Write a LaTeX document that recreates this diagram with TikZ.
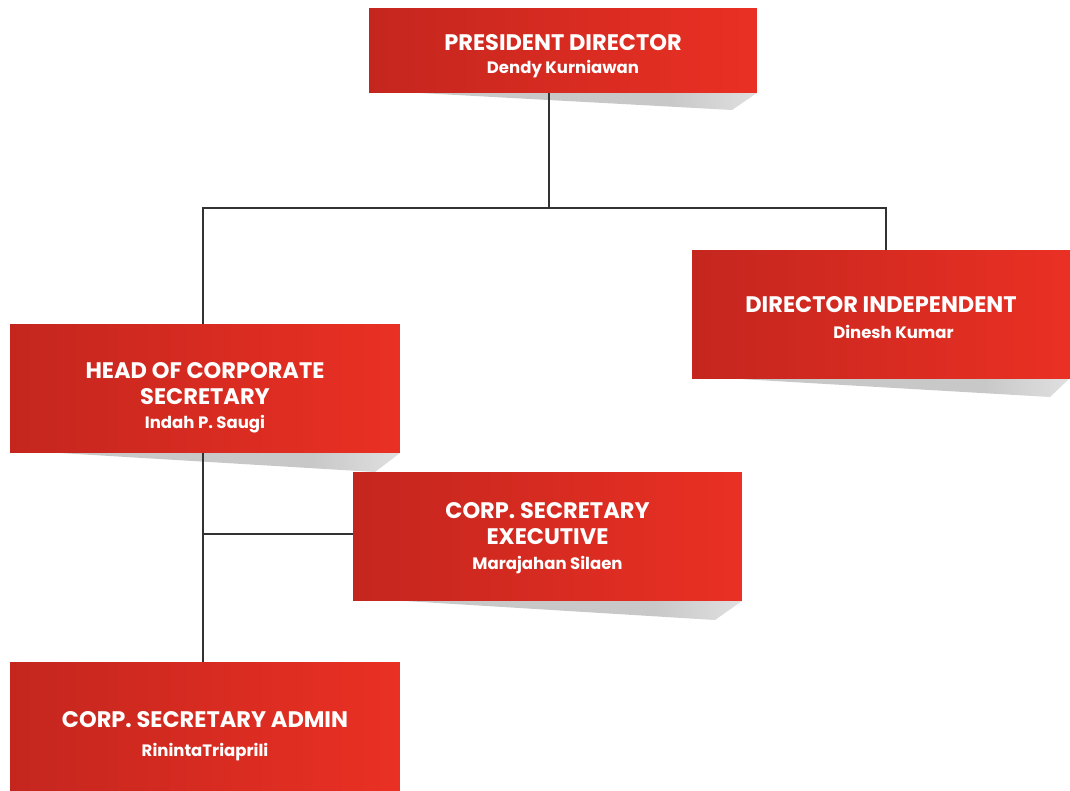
\documentclass[tikz,border=0pt]{standalone}
\usepackage{fontspec}
\setmainfont{Poppins}
\definecolor{redL}{RGB}{196,38,30}
\definecolor{redR}{RGB}{234,48,36}
\definecolor{shadowgray}{RGB}{200,200,200}
\definecolor{linegray}{RGB}{50,50,50}
\pgfdeclarehorizontalshading{shfade}{100bp}{color(0bp)=(shadowgray); color(62bp)=(shadowgray); color(92bp)=(white); color(100bp)=(white)}
\begin{document}
\begin{tikzpicture}[x=0.02cm,y=-0.02cm,
  box/.style={rectangle, inner sep=0pt, left color=redL, right color=redR},
  txt/.style={inner sep=0pt, text=white, align=center,
    font=\bfseries\fontsize{12.8pt}{14.8pt}\selectfont},
  conn/.style={draw=linegray, line width=0.75pt},
  shad/.style={shading=shfade}
]
\newcommand{\Ttl}[1]{{\fontsize{12.8pt}{14.8pt}\selectfont #1}}
\newcommand{\Nm}[1]{{\fontsize{9.4pt}{14.8pt}\selectfont #1}}
\useasboundingbox (0,0) rectangle (1070,790);
% shadows
\path[shad] (420,93) -- (757,93) -- (732,110) -- cycle;
\path[shad] (740,379) -- (1069,379) -- (1050,397) -- cycle;
\path[shad] (60,453) -- (400,453) -- (375,472) -- cycle;
\path[shad] (405,601) -- (742,601) -- (715,620) -- cycle;
% boxes
\node[box, minimum width=7.76cm, minimum height=1.7cm] (pd) at (563,50.5) {};
\node[box, minimum width=7.56cm, minimum height=2.58cm] (di) at (881,314.5) {};
\node[box, minimum width=7.8cm, minimum height=2.58cm] (hcs) at (205,388.5) {};
\node[box, minimum width=7.78cm, minimum height=2.58cm] (cse) at (547.5,536.5) {};
\node[box, minimum width=7.8cm, minimum height=2.84cm] (csa) at (205,733) {};
% texts
\node[txt] (pd-t) at ([yshift=-0.11cm]pd.center)
  {\Ttl{PRESIDENT DIRECTOR}\\[-1.5pt]\Nm{Dendy Kurniawan}};
\node[txt] (di-t) at ([yshift=-0.06cm]di.center)
  {\Ttl{DIRECTOR INDEPENDENT}\\[0.5pt]\Nm{\hspace*{0.5cm}Dinesh Kumar}};
\node[txt] (hcs-t) at ([yshift=-0.18cm]hcs.center)
  {\Ttl{HEAD OF CORPORATE}\\\Ttl{SECRETARY}\\[-1pt]\Nm{Indah P. Saugi}};
\node[txt] (cse-t) at ([yshift=-0.04cm]cse.center)
  {\Ttl{CORP. SECRETARY}\\\Ttl{EXECUTIVE}\\[-0.5pt]\Nm{Marajahan Silaen}};
\node[txt] (csa-t) at ([yshift=-0.06cm]csa.center)
  {\Ttl{CORP. SECRETARY ADMIN}\\[1.5pt]\Nm{RinintaTriaprili}};
% connectors
\coordinate (j1) at (549,208);
\coordinate (j2) at (203,534);
\draw[conn] (pd.south -| j1) -- (j1);
\draw[conn] (j1) -| (hcs.north -| j2);
\draw[conn] (j1) -| (di.north -| 886,0);
\draw[conn] (hcs.south -| j2) -- (csa.north -| j2);
\draw[conn] (j2) -- (cse.west |- j2);
\end{tikzpicture}
\end{document}
